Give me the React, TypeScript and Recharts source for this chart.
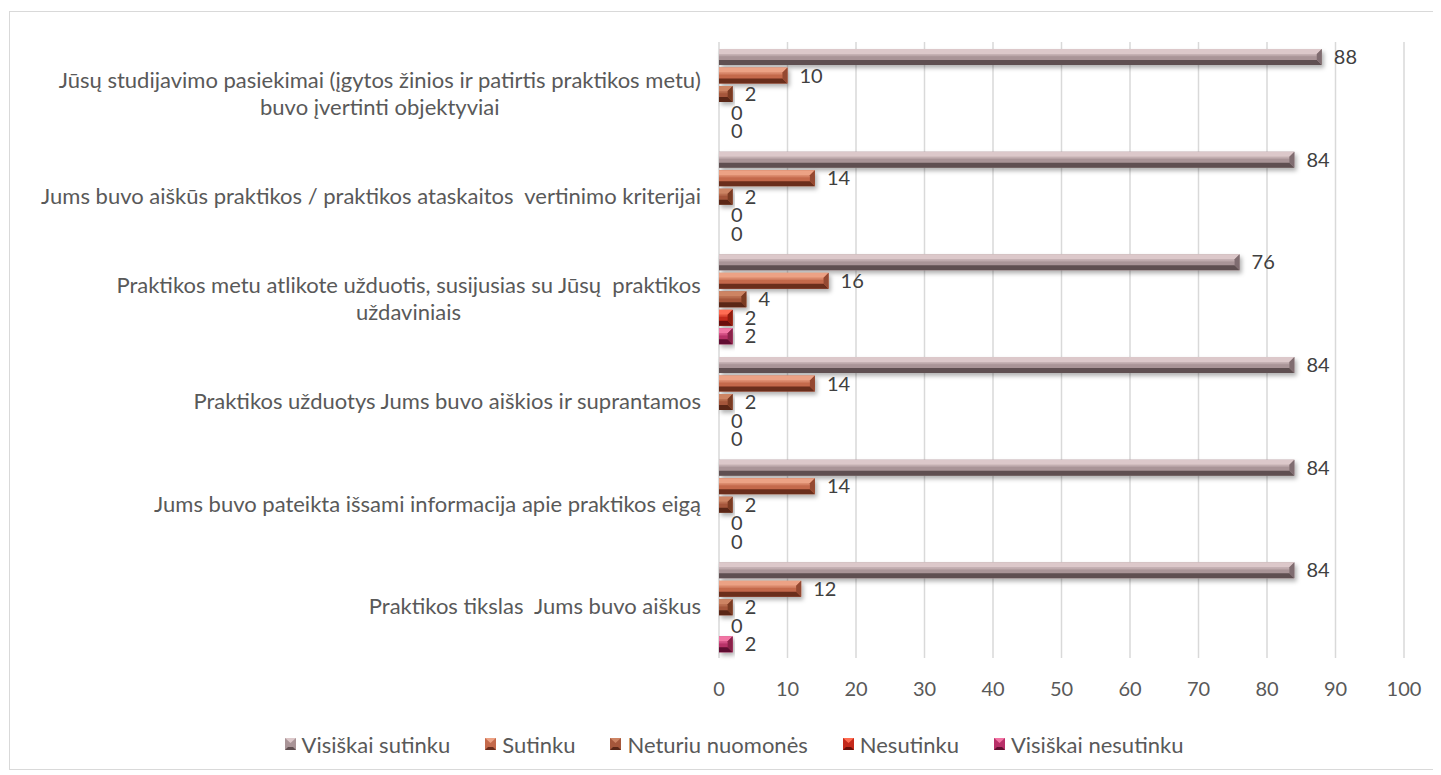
import { BarChart, Bar, XAxis, YAxis, CartesianGrid, Legend, LabelList } from 'recharts'

// categories, top to bottom as they appear in the chart
const categories = [
  'Jūsų studijavimo pasiekimai (įgytos žinios ir patirtis praktikos metu)\nbuvo įvertinti objektyviai',
  'Jums buvo aiškūs praktikos / praktikos ataskaitos  vertinimo kriterijai',
  'Praktikos metu atlikote užduotis, susijusias su Jūsų  praktikos\nuždaviniais',
  'Praktikos užduotys Jums buvo aiškios ir suprantamos',
  'Jums buvo pateikta išsami informacija apie praktikos eigą',
  'Praktikos tikslas  Jums buvo aiškus',
]

const seriesNames = ['Visiškai sutinku', 'Sutinku', 'Neturiu nuomonės', 'Nesutinku', 'Visiškai nesutinku']

const visiskaiSutinku = [88, 84, 76, 84, 84, 84]
const sutinku = [10, 14, 16, 14, 14, 12]
const neturiuNuomones = [2, 2, 4, 2, 2, 2]
const nesutinku = [0, 0, 2, 0, 0, 0]
const visiskaiNesutinku = [0, 0, 2, 0, 0, 2]

const xTicks = [0, 10, 20, 30, 40, 50, 60, 70, 80, 90, 100]

// bevel colours per series: top facet, face, bottom facet, right facet
const palettes = [
  { top: '#dcc8ca', face: '#a99497', bottom: '#5f4f51', side: '#7f6c6f' },
  { top: '#eca285', face: '#c4694b', bottom: '#6a2d1c', side: '#944830' },
  { top: '#cd8464', face: '#a5573b', bottom: '#5a2818', side: '#7a3a24' },
  { top: '#ff6c52', face: '#c4291b', bottom: '#6a100a', side: '#901a10' },
  { top: '#f274a4', face: '#b83068', bottom: '#601030', side: '#8a2048' },
]

const allSeries = [visiskaiSutinku, sutinku, neturiuNuomones, nesutinku, visiskaiNesutinku]

const chartData = categories.map((name, i) => {
  const row: Record<string, string | number> = { name }
  allSeries.forEach((s, j) => {
    row[`k${j}`] = s[i]
  })
  return row
})

const FONT = 'Lato, "Open Sans", sans-serif'
const TEXT_SIZE = 22 // category names, legend
const NUM_SIZE = 20 // tick numbers, data labels

let measureCtx: CanvasRenderingContext2D | null = null
function textWidth(t: string) {
  if (!measureCtx) {
    measureCtx = document.createElement('canvas').getContext('2d')
  }
  if (!measureCtx) return t.length * 10
  measureCtx.font = `${TEXT_SIZE}px Lato`
  return measureCtx.measureText(t).width
}

function CategoryTick({ x, y, payload }: any) {
  const lines: string[] = String(payload.value).split('\n')
  const lineH = 27
  const startY = y - ((lines.length - 1) * lineH) / 2
  if (lines.length === 1) {
    return (
      <text x={x} y={y} dy="0.35em" textAnchor="end" fill="#595959" fontSize={TEXT_SIZE} style={{ whiteSpace: 'pre' }}>
        {lines[0]}
      </text>
    )
  }
  // multi-line labels: block right-aligned, lines centred inside it
  const w = Math.max(...lines.map(textWidth))
  const cx = x - w / 2
  return (
    <text fill="#595959" fontSize={TEXT_SIZE} textAnchor="middle" style={{ whiteSpace: 'pre' }}>
      {lines.map((l, i) => (
        <tspan key={i} x={cx} y={startY + i * lineH} dy="0.35em">
          {l}
        </tspan>
      ))}
    </text>
  )
}

function bevelShape(idx: number) {
  const p = palettes[idx]
  return (props: any) => {
    const { x, y, width, height } = props
    if (!width || width <= 0) return <g />
    const w = width
    const h = height
    const b = Math.min(5, h / 3, w / 2)
    return (
      <g filter="url(#barShadow)">
        <rect x={x} y={y} width={w} height={h} fill={p.face} />
        <rect x={x} y={y + b} width={w - b} height={h - 2 * b} fill={`url(#face${idx})`} />
        <polygon points={`${x},${y} ${x + w},${y} ${x + w - b},${y + b} ${x},${y + b}`} fill={p.top} />
        <polygon points={`${x},${y + h} ${x + w},${y + h} ${x + w - b},${y + h - b} ${x},${y + h - b}`} fill={p.bottom} />
        <polygon points={`${x + w},${y} ${x + w},${y + h} ${x + w - b},${y + h - b} ${x + w - b},${y + b}`} fill={p.side} />
      </g>
    )
  }
}

function LegendIcon({ idx }: { idx: number }) {
  const p = palettes[idx]
  return (
    <svg width={11} height={12} style={{ marginRight: 6, display: 'block' }}>
      <rect x={0} y={0} width={11} height={12} fill={p.face} />
      <polygon points="0,0 11,0 5.5,5" fill={p.top} />
      <polygon points="0,12 11,12 8,9 3,9" fill={p.bottom} />
    </svg>
  )
}

function LegendContent() {
  return (
    <div
      style={{
        display: 'flex',
        justifyContent: 'center',
        alignItems: 'center',
        gap: 35,
        height: 30,
        fontSize: TEXT_SIZE,
        color: '#595959',
      }}
    >
      {seriesNames.map((n, i) => (
        <div key={n} style={{ display: 'flex', alignItems: 'center' }}>
          <LegendIcon idx={i} />
          <span>{n}</span>
        </div>
      ))}
    </div>
  )
}

export default function App() {
  return (
    <div style={{ position: 'relative', width: 1425, height: 762, fontFamily: FONT }}>
      <div
        style={{
          position: 'absolute',
          left: 1,
          top: 3,
          width: 1428,
          height: 757,
          border: '1px solid #d9d9d9',
        }}
      />
      <div style={{ position: 'absolute', left: 0, top: 0 }}>
        <BarChart
          width={1425}
          height={762}
          data={chartData}
          layout="vertical"
          margin={{ top: 34, right: 29, bottom: 42, left: 11 }}
          barCategoryGap={7}
          barGap={2.5}
        >
          <defs>
            <filter id="barShadow" x="-5%" y="-40%" width="115%" height="200%">
              <feDropShadow dx="2" dy="3" stdDeviation="2" floodColor="#000" floodOpacity="0.3" />
            </filter>
            {palettes.map((p, i) => (
              <linearGradient key={i} id={`face${i}`} x1="0" y1="0" x2="0" y2="1">
                <stop offset="0%" stopColor={p.top} stopOpacity={0.6} />
                <stop offset="45%" stopColor={p.face} />
                <stop offset="100%" stopColor={p.face} />
              </linearGradient>
            ))}
          </defs>
          <CartesianGrid horizontal={false} stroke="#d9d9d9" strokeWidth={1.5} />
          <XAxis
            type="number"
            domain={[0, 100]}
            ticks={xTicks}
            axisLine={false}
            tickLine={false}
            tickMargin={18}
            height={40}
            tick={{ fill: '#595959', fontSize: NUM_SIZE }}
          />
          <YAxis
            type="category"
            dataKey="name"
            width={700}
            axisLine={false}
            tickLine={false}
            tickMargin={12}
            interval={0}
            tick={<CategoryTick />}
          />
          <Legend
            content={<LegendContent />}
            verticalAlign="bottom"
            height={30}
            wrapperStyle={{ left: 27, width: 1398, top: 721, bottom: 'auto' }}
          />
          {seriesNames.map((n, i) => (
            <Bar key={n} dataKey={`k${i}`} name={n} fill={palettes[i].face} shape={bevelShape(i)} isAnimationActive={false}>
              <LabelList dataKey={`k${i}`} position="right" offset={12} fill="#404040" fontSize={NUM_SIZE} />
            </Bar>
          ))}
        </BarChart>
      </div>
    </div>
  )
}
